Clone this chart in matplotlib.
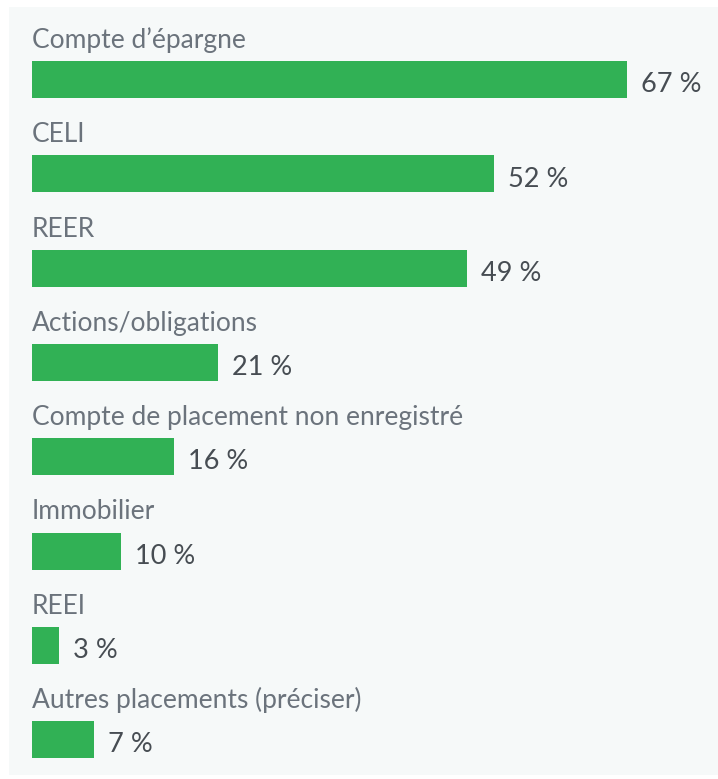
import matplotlib
matplotlib.use("Agg")
import matplotlib.pyplot as plt

categories = ["Compte d’épargne", "CELI", "REER", "Actions/obligations",
              "Compte de placement non enregistré", "Immobilier", "REEI",
              "Autres placements (préciser)"]
values = [67, 52, 49, 21, 16, 10, 3, 7]
value_labels = [f"{v} %" for v in values]

W, H = 718, 779
fig = plt.figure(figsize=(W / 100, H / 100), dpi=100)
fig.patch.set_facecolor("white")
bg = fig.add_axes([9 / W, 1 - 775 / H, (W - 9) / W, (775 - 7) / H], zorder=-5)
bg.set_facecolor("#f6f9f9")
bg.set_xticks([]); bg.set_yticks([])
for s in bg.spines.values():
    s.set_visible(False)

px_per_unit = 8.88
row = 94.3
c0 = 79.5
left = 32
ax = fig.add_axes([left / W, 0, (W - left) / W, 1], zorder=1)
ax.set_facecolor("none")
ax.set_xlim(0, (W - left) / px_per_unit)
ax.set_ylim((H - c0) / row, -c0 / row)
ax.axis("off")

green = "#31b155"
ys = list(range(len(categories)))
ax.barh(ys, values, height=37 / row, color=green, left=0, zorder=2)
for y, v, cat, lab in zip(ys, values, categories, value_labels):
    ax.text(0, y - 0.335, cat, ha="left", va="baseline", fontsize=19,
            family="Lato", color="#6b737c")
    ax.text(v + 14 / px_per_unit, y + 0.135, lab, ha="left", va="baseline",
            fontsize=19.5, family="Lato", color="#474d53")

fig.savefig("out.png", dpi=100)
